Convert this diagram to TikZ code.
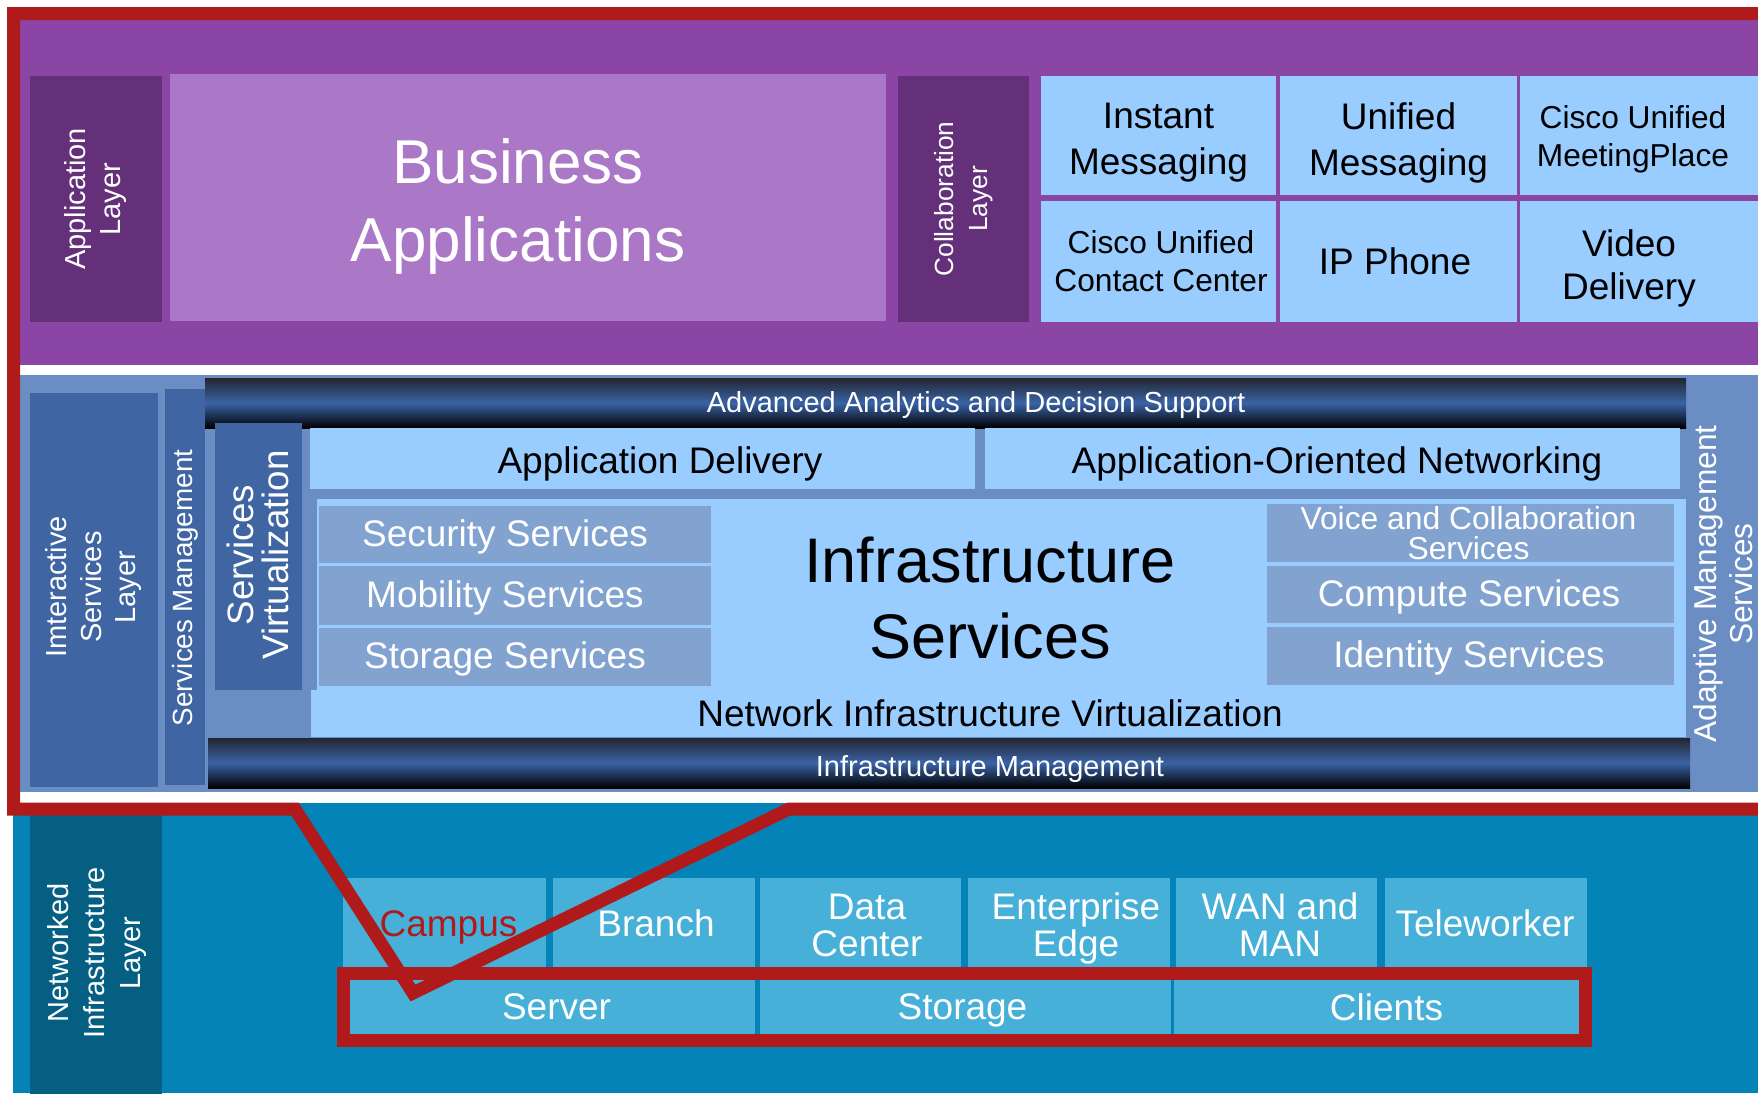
\documentclass[tikz,border=0pt]{standalone}
\usepackage{fontspec}
\setmainfont{Liberation Sans}
\usetikzlibrary{fit}
\definecolor{purpleband}{HTML}{8A45A5}
\definecolor{darkpurple}{HTML}{633079}
\definecolor{bizpurple}{HTML}{AA78C6}
\definecolor{lightbox}{HTML}{99CCFF}
\definecolor{midblue}{HTML}{6A8EC4}
\definecolor{darkblue}{HTML}{3F66A3}
\definecolor{svcgray}{HTML}{82A3D0}
\definecolor{bartop}{HTML}{22262F}
\definecolor{barmid}{HTML}{3A63A6}
\definecolor{tealbg}{HTML}{0383B8}
\definecolor{darkteal}{HTML}{055F82}
\definecolor{botbox}{HTML}{47B0D8}
\definecolor{framered}{HTML}{B01A1A}
\begin{document}
\begin{tikzpicture}[x=1pt, y=-1pt,
  blk/.style={inner sep=0pt, outer sep=0pt, anchor=north west},
  sz/.style 2 args={minimum width=#1pt, minimum height=#2pt},
  rot/.style={rotate=90, align=center, inner sep=0pt, text=white},
  txt/.style={align=center, inner sep=0pt},
  wtxt/.style={txt, text=white},
  lblue/.style={blk, fill=lightbox},
  gbox/.style={blk, fill=svcgray},
  bbox/.style={blk, fill=botbox},
  bar/.style={blk, top color=bartop, bottom color=black, middle color=barmid},
  redline/.style={draw=framered, line width=13pt, line join=miter},
  f37/.style={font=\fontsize{37}{46}\selectfont},
  f37t/.style={font=\fontsize{37}{37}\selectfont},
  f32/.style={font=\fontsize{31.7}{38.3}\selectfont},
  f29/.style={font=\fontsize{29}{35}\selectfont},
]
\useasboundingbox (0,0) rectangle (1758,1093);
\fill[white] (0,0) rectangle (1758,1093);
% background bands
\fill[purpleband] (13,13) rectangle (1760,365);
\fill[midblue] (20,375) rectangle (1760,792);
\fill[tealbg] (13,803) rectangle (1760,1093);

% ---------- application / collaboration layer ----------
\node[blk, sz={132}{246}, fill=darkpurple] (applayer) at (30,76) {};
\node[rot, f29] (applayer-t) at (applayer.center) {Application\\Layer};
\node[blk, sz={716}{247}, fill=bizpurple] (bizapp) at (170,74) {};
\node[wtxt, font=\fontsize{62}{78}\selectfont] (bizapp-t) at (518,206) {Business\\Applications};
\node[blk, sz={131}{246}, fill=darkpurple] (collab) at (898,76) {};
\node[rot, font=\fontsize{26.3}{34}\selectfont] (collab-t) at (collab.center) {Collaboration\\Layer};

\node[lblue, sz={235}{119}] (im) at (1041,76) {};
\node[lblue, sz={237}{119}] (um) at (1280,76) {};
\node[lblue, sz={240}{119}] (mp) at (1520,76) {};
\node[lblue, sz={235}{121}] (cc) at (1041,201) {};
\node[lblue, sz={237}{121}] (ip) at (1280,201) {};
\node[lblue, sz={240}{121}] (vd) at (1520,201) {};
\node[txt, f37] (im-t) at (1158.5,142.5) {Instant\\Messaging};
\node[txt, f37] (um-t) at (1398.5,142.5) {Unified\\Messaging};
\node[txt, f32] (mp-t) at (1633,139.5) {Cisco Unified\\MeetingPlace};
\node[txt, f32] (cc-t) at (1161,261.5) {Cisco Unified\\Contact Center};
\node[txt, f37] (ip-t) at (1395,261.5) {IP Phone};
\node[txt, font=\fontsize{37}{43}\selectfont] (vd-t) at (1629,268.5) {Video\\Delivery};

% ---------- interactive services layer ----------
\node[blk, sz={128}{394}, fill=darkblue] (interact) at (30,393) {};
\node[rot, font=\fontsize{29}{34.5}\selectfont] (interact-t) at (94,587) {Imteractive\\Services\\Layer};
\node[blk, sz={40}{396}, fill=darkblue] (svcmgmt) at (165,389) {};
\node[rot, font=\fontsize{27.8}{34}\selectfont] (svcmgmt-t) at (185,588) {Services Management};

\node[bar, sz={1481}{50}] (analytics) at (205,378) {};
\node[wtxt, f29] (analytics-t) at (976,405) {Advanced Analytics and Decision Support};

\node[blk, sz={87}{267}, fill=darkblue] (svcvirt) at (215,423) {};
\node[rot, font=\fontsize{36.7}{35.5}\selectfont] (svcvirt-t) at (258,555) {Services\\Virtualization};

\node[lblue, sz={665}{61}] (appdel) at (310,428) {};
\node[txt, f37] (appdel-t) at (660,464) {Application Delivery};
\node[lblue, sz={695}{61}] (aon) at (985,428) {};
\node[txt, f37] (aon-t) at (1337,463.5) {Application-Oriented Networking};

\node[blk, sz={1369}{238}, fill=lightbox] (infra) at (317,499) {};
\node[blk, sz={1375}{47}, fill=lightbox] (niv) at (311,690) {};
\node[txt, font=\fontsize{63}{76}\selectfont] (infra-t) at (990,598) {Infrastructure\\Services};
\node[txt, f37] (niv-t) at (990,713) {Network Infrastructure Virtualization};

\node[gbox, sz={392}{57}] (security) at (319,506) {};
\node[gbox, sz={392}{59}] (mobility) at (319,566) {};
\node[gbox, sz={392}{58}] (storagesvc) at (319,628) {};
\node[gbox, sz={407}{58}] (voice) at (1267,504) {};
\node[gbox, sz={407}{57}] (compute) at (1267,566) {};
\node[gbox, sz={407}{58}] (identity) at (1267,627) {};
\node[wtxt, f37] (security-t) at (505,536.5) {Security Services};
\node[wtxt, f37] (mobility-t) at (505,597.5) {Mobility Services};
\node[wtxt, f37] (storagesvc-t) at (505,659) {Storage Services};
\node[wtxt, font=\fontsize{31.8}{30.7}\selectfont] (voice-t) at (1468.5,533) {Voice and Collaboration\\Services};
\node[wtxt, f37] (compute-t) at (1469,596.5) {Compute Services};
\node[wtxt, f37] (identity-t) at (1469,658) {Identity Services};

\node[bar, sz={1482}{50}] (infmgmt) at (208,738) {};
\node[wtxt, f29] (infmgmt-t) at (990,769) {Infrastructure Management};

\node[rot, font=\fontsize{31.7}{36}\selectfont] (adaptive-t) at (1723,584) {Adaptive Management\\Services};

% ---------- networked infrastructure layer ----------
\node[blk, sz={132}{280}, fill=darkteal] (netlayer) at (30,815) {};
\node[rot, font=\fontsize{29}{35.5}\selectfont] (netlayer-t) at (97,953) {Networked\\Infrastructure\\Layer};

\node[bbox, sz={203}{89}] (campus) at (343,878) {};
\node[bbox, sz={202}{89}] (branch) at (553,878) {};
\node[bbox, sz={201}{89}] (dc) at (760,878) {};
\node[bbox, sz={202}{89}] (edge) at (968,878) {};
\node[bbox, sz={201}{89}] (wan) at (1176,878) {};
\node[bbox, sz={202}{89}] (tele) at (1385,878) {};
\node[txt, f37t, text=framered] (campus-t) at (448.5,927) {Campus};
\node[wtxt, f37t] (branch-t) at (656,923.5) {Branch};
\node[wtxt, f37t] (dc-t) at (867,925.5) {Data\\Center};
\node[wtxt, f37t] (edge-t) at (1076,928.5) {Enterprise\\Edge};
\node[wtxt, f37t] (wan-t) at (1280,925) {WAN and\\MAN};
\node[wtxt, f37t] (tele-t) at (1485,923.5) {Teleworker};

\node[bbox, sz={405}{54}] (server) at (350,980) {};
\node[bbox, sz={411}{54}] (storage) at (760,980) {};
\node[bbox, sz={405}{54}] (clients) at (1174,980) {};
\node[wtxt, f37t] (server-t) at (556.5,1007) {Server};
\node[wtxt, f37t] (storage-t) at (962.5,1010) {Storage};
\node[wtxt, f37t] (clients-t) at (1386.5,1007) {Clients};

% ---------- red highlight ----------
\coordinate (ftl) at (13.5,13.5);
\coordinate (ftr) at (1780,13.5);
\coordinate (fbr) at (1780,809);
\coordinate (fdr) at (789,809);
\coordinate (ftip) at (413,993);
\coordinate (fdl) at (295,809);
\coordinate (fbl) at (13.5,809);
\draw[redline] (ftl) -- (ftr) -- (fbr) -- (fdr) -- (ftip) -- (fdl) -- (fbl) -- cycle;
\node[fit=(server)(clients), inner sep=6.5pt, draw=framered, line width=13pt] (focus) {};
\end{tikzpicture}
\end{document}
